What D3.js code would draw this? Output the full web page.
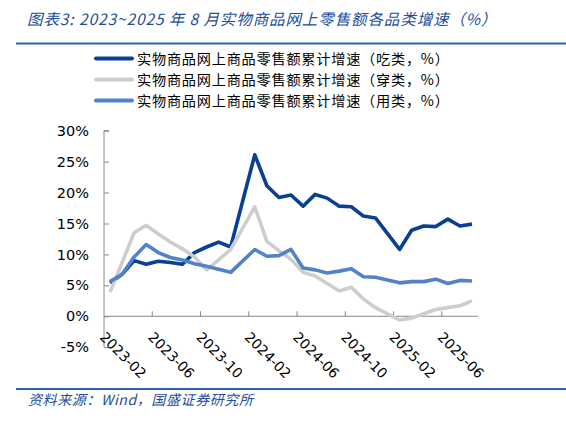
<!DOCTYPE html>
<html>
<head>
<meta charset="utf-8">
<script src="https://cdn.jsdelivr.net/npm/d3@7/dist/d3.min.js"></script>
<style>
  body { margin: 0; background: #fff; }
  svg { display: block; }
</style>
</head>
<body>
<div class="chart"></div>
<script>
// months 2023-02 .. 2025-08 (January figures are not published separately)
var months = [];
for (var m = 0; m < 31; m++) {
  var d = new Date(2023, 1 + m, 1);
  months.push(d.getFullYear() + "-" + String(d.getMonth() + 1).padStart(2, "0"));
}
var tickLabels = ["2023-02", "2023-06", "2023-10", "2024-02", "2024-06", "2024-10", "2025-02", "2025-06"];
var yTicks = [-5, 0, 5, 10, 15, 20, 25, 30];

var chiLei = [5.4, 6.8, 9.0, 8.4, 8.9, 8.7, 8.4, 10.3, 11.2, 12.0, 11.2, null, 26.1, 21.1, 19.2, 19.6, 17.8, 19.7, 19.1, 17.8, 17.7, 16.2, 15.9, null, 10.8, 13.9, 14.6, 14.5, 15.7, 14.6, 14.9];
var chuanLei = [3.9, 8.7, 13.5, 14.7, 13.3, 12.0, 10.9, 9.6, 7.5, 9.1, 10.8, null, 17.7, 12.1, 10.6, 9.2, 7.1, 6.5, 5.3, 4.1, 4.7, 2.8, 1.4, null, -0.6, -0.3, 0.4, 1.1, 1.4, 1.7, 2.5];
var yongLei = [5.6, 6.8, 9.6, 11.6, 10.3, 9.5, 9.1, 8.5, 8.1, 7.6, 7.1, null, 10.8, 9.7, 9.8, 10.8, 7.8, 7.5, 7.0, 7.3, 7.7, 6.4, 6.3, null, 5.4, 5.6, 5.6, 6.0, 5.3, 5.8, 5.7];

var seriesNames = ["实物商品网上商品零售额累计增速（吃类，%）", "实物商品网上商品零售额累计增速（穿类，%）", "实物商品网上商品零售额累计增速（用类，%）"];

var w = 566, h = 424;
var series = [
  { name: seriesNames[0], values: chiLei, color: "#0b3f94" },
  { name: seriesNames[1], values: chuanLei, color: "#cdcdcd" },
  { name: seriesNames[2], values: yongLei, color: "#5283c8" }
];

var svg = d3.select(".chart").append("svg")
  .attr("width", w).attr("height", h);

// title + rules
svg.append("text")
  .attr("x", 27).attr("y", 25)
  .attr("fill", "#1d4d9b")
  .attr("font-family", "'Noto Sans CJK SC', sans-serif")
  .attr("font-style", "italic")
  .attr("font-size", "15.5px")
  .attr("letter-spacing", "0.9px")
  .text("图表3:  2023~2025 年 8 月实物商品网上零售额各品类增速（%）");
svg.append("line").attr("x1", 16).attr("x2", w).attr("y1", 43.5).attr("y2", 43.5)
  .attr("stroke", "#2f63ad").attr("stroke-width", 2);
svg.append("line").attr("x1", 16).attr("x2", w).attr("y1", 389).attr("y2", 389)
  .attr("stroke", "#2f63ad").attr("stroke-width", 2);
svg.append("text")
  .attr("x", 28).attr("y", 405)
  .attr("fill", "#1d4d9b")
  .attr("font-family", "'Noto Sans CJK SC', sans-serif")
  .attr("font-style", "italic")
  .attr("font-size", "14px")
  .attr("letter-spacing", "0.6px")
  .text("资料来源：Wind，国盛证券研究所");

// scales
var x = d3.scaleBand().domain(months).range([104, 478]);
var y = d3.scaleLinear().domain([-5, 30]).range([347.2, 130.7]);
var cx = function(mo) { return x(mo) + x.bandwidth() / 2; };

// y axis
var yAxis = svg.append("g")
  .attr("transform", "translate(104,0)")
  .call(d3.axisLeft(y).tickValues(yTicks).tickSize(-5).tickPadding(15)
    .tickFormat(function(d) { return d + "%"; }));
yAxis.select(".domain").attr("stroke", "#888").attr("d", "M0," + y(-5) + "V" + y(30) + "h5");
yAxis.selectAll(".tick line").attr("stroke", "#888");
yAxis.selectAll(".tick text")
  .attr("font-family", "'DejaVu Sans', Verdana, sans-serif")
  .attr("font-size", "14.5px").attr("fill", "#000");

// x axis (category, crosses at 0)
var xg = svg.append("g");
xg.append("line")
  .attr("x1", x.range()[0]).attr("x2", x.range()[1])
  .attr("y1", y(0)).attr("y2", y(0))
  .attr("stroke", "#888");
xg.selectAll("line.tk")
  .data(tickLabels.slice(1))
  .enter().append("line").attr("class", "tk")
  .attr("x1", function(d) { return x(d); })
  .attr("x2", function(d) { return x(d); })
  .attr("y1", y(0)).attr("y2", y(0) - 5)
  .attr("stroke", "#888");
xg.selectAll("text")
  .data(tickLabels)
  .enter().append("text")
  .attr("transform", function(d) { return "translate(" + (x(d) - 5) + "," + 338 + ") rotate(45)"; })
  .attr("font-family", "'DejaVu Sans', Verdana, sans-serif")
  .attr("font-size", "14px")
  .attr("fill", "#000")
  .text(function(d) { return d; });

// lines
var line = d3.line()
  .x(function(d) { return cx(d.m); })
  .y(function(d) { return y(d.v); });

svg.selectAll("path.series")
  .data(series)
  .enter().append("path").attr("class", "series")
  .attr("fill", "none")
  .attr("stroke", function(s) { return s.color; })
  .attr("stroke-width", 3.6)
  .attr("stroke-linejoin", "round")
  .attr("d", function(s) {
    var pts = s.values.map(function(v, i) { return { m: months[i], v: v }; })
      .filter(function(p) { return p.v !== null; });
    return line(pts);
  });

// legend
var lg = svg.selectAll("g.legend")
  .data(series)
  .enter().append("g").attr("class", "legend")
  .attr("transform", function(s, i) { return "translate(0," + (58.5 + i * 21) + ")"; });
lg.append("line")
  .attr("x1", 96).attr("x2", 132).attr("y1", 0).attr("y2", 0)
  .attr("stroke", function(s) { return s.color; })
  .attr("stroke-width", 4).attr("stroke-linecap", "round");
lg.append("text")
  .attr("x", 137).attr("y", 5)
  .attr("font-family", "'Noto Sans CJK SC', sans-serif")
  .attr("font-size", "14.2px")
  .attr("letter-spacing", "0.75px")
  .attr("fill", "#000")
  .text(function(s) { return s.name; });
</script>
</body>
</html>
